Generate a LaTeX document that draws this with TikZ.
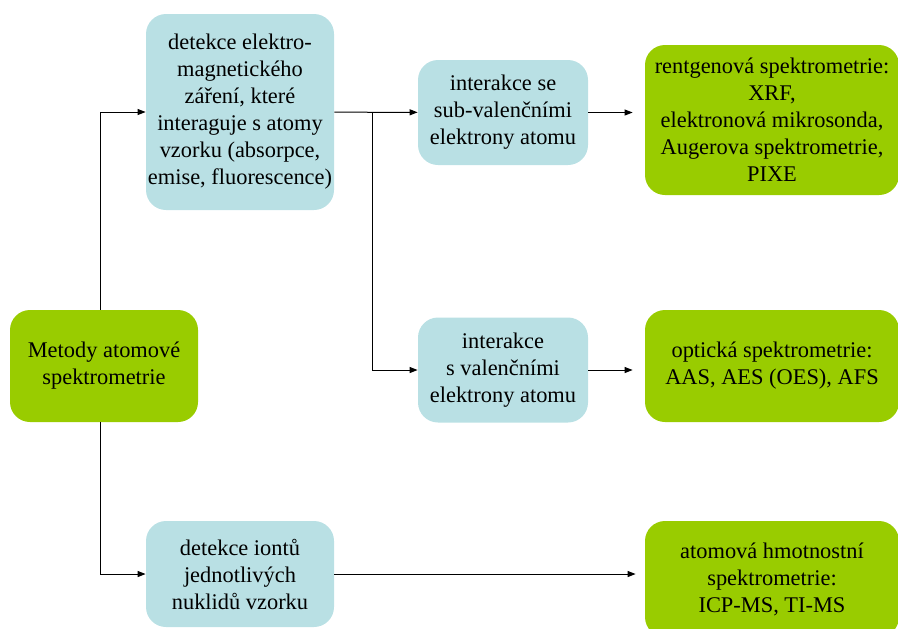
\documentclass[tikz,border=0pt]{standalone}
\usepackage{fontspec}
\setmainfont{Liberation Serif}
\usetikzlibrary{arrows.meta,positioning}
\definecolor{methodgreen}{RGB}{153,204,0}
\definecolor{detectblue}{RGB}{185,224,228}

\begin{document}
\begin{tikzpicture}[x=0.5pt, y=-0.5pt, >={Triangle[length=4pt,width=3pt]},
  box/.style={rounded corners=10pt, align=center, inner xsep=0pt, inner ysep=2pt,
    font=\fontsize{11.2}{13.5}\selectfont},
  greenbox/.style={box, fill=methodgreen},
  bluebox/.style={box, fill=detectblue},
  link/.style={->, line width=0.5pt}]
  \useasboundingbox (0,0) rectangle (898,628);

  \node[greenbox, minimum width=94pt, minimum height=56pt] (metody) at (104,366) {Metody atomové\\spektrometrie};
  \node[bluebox, minimum width=94pt, minimum height=98pt] (em) at (240,112) {detekce elektro-\\magnetického\\záření, které\\interaguje s atomy\\vzorku (absorpce,\\emise, fluorescence)};
  \node[bluebox, minimum width=94pt, minimum height=53pt] (ions) at (240,574) {detekce iontů\\jednotlivých\\nuklidů vzorku};
  \node[bluebox, minimum width=85pt, minimum height=52.5pt] (sub) at (503,112.5) {interakce se\\sub-valenčními\\elektrony atomu};
  \node[bluebox, minimum width=85pt, minimum height=52.5pt] (val) at (503,370) {interakce\\s valenčními\\elektrony atomu};
  \node[greenbox, minimum width=127pt, minimum height=75pt] (rtg) at (772,120) {rentgenová spektrometrie:\\XRF,\\elektronová mikrosonda,\\Augerova spektrometrie,\\PIXE};
  \node[greenbox, minimum width=127pt, minimum height=56pt] (opt) at (772,366) {optická spektrometrie:\\AAS, AES (OES), AFS};
  \node[greenbox, minimum width=127pt, minimum height=58pt] (hmot) at (772,579) {atomová hmotnostní\\spektrometrie:\\ICP-MS, TI-MS};

  \coordinate (split) at (372,112);

  \draw[link] ([xshift=-2pt]metody.north) |- (em);
  \draw[link] ([xshift=-2pt]metody.south) |- (ions);
  \draw[link] (em) -- (sub);
  \draw[link] (split) |- (val);
  \draw[link, shorten >=6pt] (sub.east) -- (sub.east -| rtg.west);
  \draw[link, shorten >=6pt] (val.east) -- (val.east -| opt.west);
  \draw[link, shorten >=4.5pt] (ions.east) -- (ions.east -| hmot.west);
\end{tikzpicture}
\end{document}
